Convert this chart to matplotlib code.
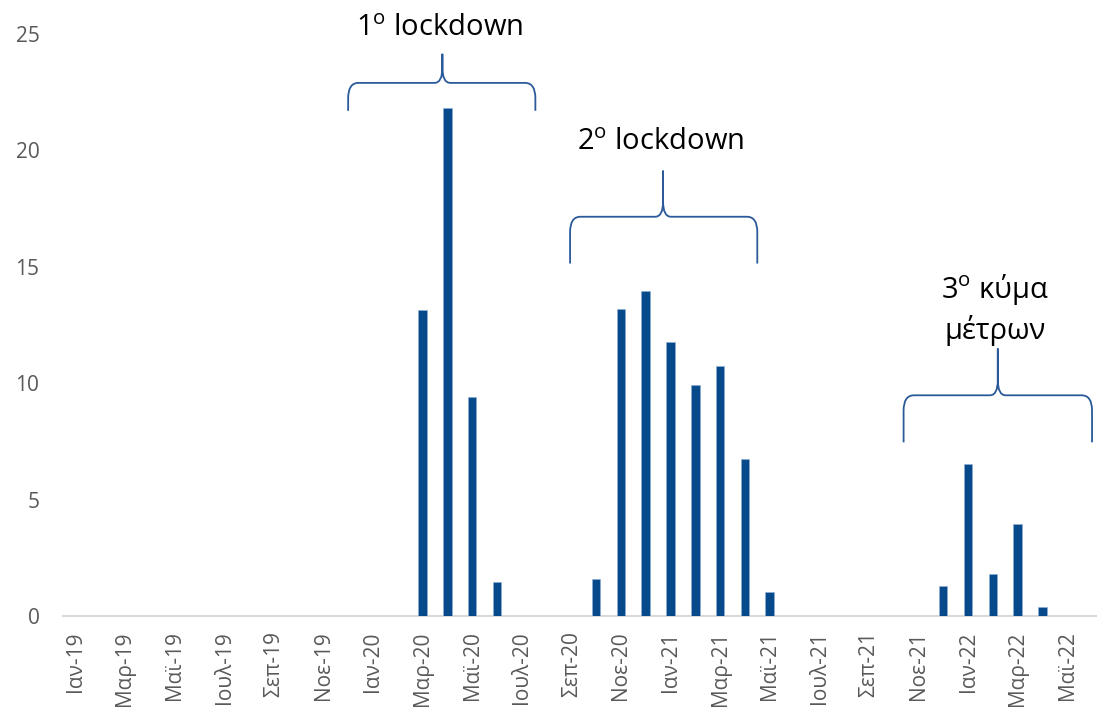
import matplotlib
matplotlib.use("Agg")
import matplotlib.pyplot as plt
from matplotlib.path import Path
from matplotlib.patches import PathPatch
import numpy as np

plt.rcParams['font.family'] = ['Open Sans', 'DejaVu Sans']

# ---- data ----
months = ["Ιαν", "Φεβ", "Μαρ", "Απρ", "Μαϊ", "Ιουν", "Ιουλ", "Αυγ", "Σεπ", "Οκτ", "Νοε", "Δεκ"]
years = ["19", "20", "21", "22"]
categories = [f"{m}-{y}" for y in years for m in months][:41]   # Jan-19 .. May-22

values = [0, 0, 0, 0, 0, 0, 0, 0, 0, 0, 0, 0,            # 2019
          0, 0, 13.15, 21.8, 9.42, 1.45, 0, 0, 0, 1.57, 13.2, 13.95,   # 2020
          11.78, 9.93, 10.73, 6.73, 1.04, 0, 0, 0, 0, 0, 0, 1.30,      # 2021
          6.52, 1.79, 3.95, 0.39, 0]                                    # 2022

tick_labels = categories[::2]

# annotations: (label, x_left, x_right, x_center, y_tip, y_horizontal, y_peak, text_y)
braces = [
    (r"1$^{\mathregular{o}}$ lockdown", 11.0, 18.55, 14.8, 21.7, 22.9, 24.15, 25.22),
    (r"2$^{\mathregular{o}}$ lockdown", 19.95, 27.5, 23.7, 15.14, 17.15, 19.13, 20.33),
    ("3$^{\\mathregular{o}}$ κύμα\nμέτρων", 33.4, 41.0, 37.2, 7.46, 9.48, 11.49, 13.19),
]

bar_color = "#074A8C"
brace_color = "#2B5A9A"

fig = plt.figure(figsize=(10.97, 7.12), dpi=100)
ax = fig.add_axes([63 / 1097, 96 / 712, (1097 - 63) / 1097, (616 - 34) / 712])

x = np.arange(len(categories))
ax.bar(x, values, width=0.34, color=bar_color, edgecolor="#8FB0D6", linewidth=0.4, zorder=3)

ax.set_xlim(-0.5, 41.2)
ax.set_ylim(0, 25)
ax.set_yticks([0, 5, 10, 15, 20, 25])
ax.set_xticks(x[::2])
ax.set_xticklabels(tick_labels, rotation=90, va="top", ha="center")
ax.tick_params(axis="both", length=0, labelsize=15, labelcolor="#595959")
ax.tick_params(axis="y", pad=17)
ax.tick_params(axis="x", pad=11)
for s in ["top", "right", "left"]:
    ax.spines[s].set_visible(False)
ax.spines["bottom"].set_color("#D9D9D9")
ax.spines["bottom"].set_linewidth(1.5)


def draw_brace(x0, x1, xc, yb, yh, yt):
    cdx, cdy = 0.42, 0.65     # end corners
    mdx, mdy = 0.32, 0.65     # middle cusp
    verts = [
        (x0, yb), (x0, yh - cdy), (x0, yh), (x0 + cdx, yh),
        (xc - mdx, yh), (xc, yh), (xc, yh + mdy), (xc, yt),
        (xc, yh + mdy), (xc, yh), (xc + mdx, yh),
        (x1 - cdx, yh), (x1, yh), (x1, yh - cdy), (x1, yb),
    ]
    codes = [
        Path.MOVETO, Path.LINETO, Path.CURVE3, Path.CURVE3,
        Path.LINETO, Path.CURVE3, Path.CURVE3, Path.LINETO,
        Path.LINETO, Path.CURVE3, Path.CURVE3,
        Path.LINETO, Path.CURVE3, Path.CURVE3, Path.LINETO,
    ]
    p = PathPatch(Path(verts, codes), facecolor="none", edgecolor=brace_color,
                  linewidth=1.3, clip_on=False, zorder=4)
    ax.add_patch(p)


for label, x0, x1, xc, yb, yh, yt, ty in braces:
    draw_brace(x0, x1, xc, yb, yh, yt)
    ax.text(xc - 0.1, ty, label, ha="center", va="center", fontsize=21,
            color="black", clip_on=False, linespacing=1.3)

fig.savefig("out.png", dpi=100)
